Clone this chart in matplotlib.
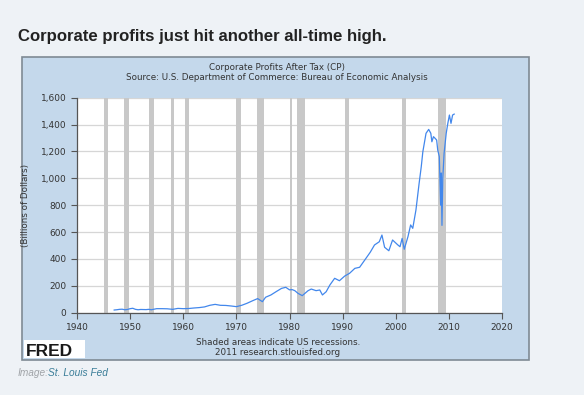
import matplotlib.pyplot as plt
from matplotlib.patches import Rectangle

# --- data (billions of dollars) ---
years = [1947.0, 1947.5, 1948.0, 1948.5, 1949.0, 1949.5, 1950.0, 1950.5, 1951.0, 1951.5,
         1952.0, 1953.0, 1953.5, 1954.0, 1955.0, 1956.0, 1957.0, 1958.0, 1959.0, 1960.0,
         1961.0, 1962.0, 1963.0, 1964.0, 1965.0, 1966.0, 1967.0, 1968.0, 1969.0, 1970.0,
         1971.0, 1972.0, 1973.0, 1974.0, 1974.9, 1975.5, 1976.5, 1977.5, 1978.5, 1979.3,
         1980.0, 1980.5, 1981.0, 1981.6, 1982.4, 1983.5, 1984.1, 1985.0, 1985.7, 1986.2,
         1986.9, 1987.6, 1988.5, 1989.4, 1990.4, 1991.3, 1992.3, 1993.2, 1994.4, 1995.2,
         1996.0, 1996.9, 1997.4, 1997.9, 1998.7, 1999.4, 2000.4, 2000.8, 2001.2, 2001.6,
         2002.3, 2002.8, 2003.2, 2003.8, 2004.4, 2004.8, 2005.1, 2005.7, 2006.2, 2006.6,
         2006.8, 2007.1, 2007.4, 2007.7, 2007.9, 2008.2, 2008.45, 2008.55, 2008.7, 2008.85,
         2009.1, 2009.5, 2009.8, 2010.1, 2010.4, 2010.7, 2011.0]
profits = [20, 22, 25, 26, 22, 24, 30, 33, 25, 22,
           24, 23, 25, 22, 30, 30, 29, 25, 32, 30,
           31, 35, 38, 43, 55, 62, 55, 54, 50, 45,
           55, 70, 88, 105, 82, 115, 132, 157, 181, 189,
           170, 172, 164, 144, 127, 164, 176, 164, 169, 132,
           156, 206, 256, 238, 273, 293, 330, 338, 405, 450,
           504, 528, 578, 487, 461, 541, 504, 491, 553, 472,
           566, 653, 628, 764, 963, 1086, 1198, 1335, 1364, 1335,
           1272, 1310, 1298, 1285, 1211, 1161, 800, 1040, 650, 1000,
           1186, 1335, 1409, 1471, 1409, 1471, 1478]

# NBER recessions (start, end)
rec_start = [1945.1, 1948.9, 1953.5, 1957.6, 1960.3, 1969.9, 1973.9, 1980.0, 1981.5, 1990.5, 2001.2, 2007.9]
rec_end = [1945.8, 1949.8, 1954.4, 1958.3, 1961.1, 1970.9, 1975.2, 1980.5, 1982.9, 1991.2, 2001.9, 2009.5]

W, H = 584, 395
fig = plt.figure(figsize=(W / 100, H / 100), dpi=100)
fig.patch.set_facecolor("#eef2f6")


def fx(px):
    return px / W


def fy(py):
    return 1 - py / H


fig.text(fx(18), fy(41), "Corporate profits just hit another all-time high.",
         fontsize=12.1, fontweight="bold", color="#222222", family="Liberation Sans",
         va="baseline", ha="left")

# light blue FRED panel, drawn under the axes
panel = Rectangle((fx(22), fy(360)), fx(529 - 22), (360 - 57) / H, transform=fig.transFigure,
                  facecolor="#c4d8eb", edgecolor="#7f8a94", linewidth=1.2, zorder=-2)
fig.patches.append(panel)
logo = Rectangle((fx(24), fy(358)), fx(61), 18 / H, transform=fig.transFigure,
                 facecolor="white", edgecolor="none", zorder=-1)
fig.patches.append(logo)

ax = fig.add_axes([fx(77), fy(312.7), fx(502 - 77), (312.7 - 97.7) / H])
ax.set_facecolor("white")

for s, e in zip(rec_start, rec_end):
    ax.axvspan(s, e, color="#c8c8c8", lw=0, zorder=1)
ax.plot(years, profits, color="#4287ec", lw=0.9, zorder=3)

ax.set_xlim(1940, 2020)
ax.set_ylim(0, 1600)
ax.set_xticks(range(1940, 2021, 10))
ax.set_yticks(range(0, 1601, 200))
ax.set_yticklabels([f"{v:,}" for v in range(0, 1601, 200)])
ax.yaxis.grid(True, color="#d6d6d6", lw=0.9, zorder=0)
ax.set_axisbelow(True)
for side in ("top", "right"):
    ax.spines[side].set_visible(False)
for side in ("left", "bottom"):
    ax.spines[side].set_color("#555555")
    ax.spines[side].set_linewidth(0.9)
ax.tick_params(colors="#555555", labelcolor="#333333", labelsize=6.5, length=4, width=0.8)
ax.set_ylabel("(Billions of Dollars)", fontsize=6.3, color="#333333", labelpad=8)

fig.text(fx(277), fy(70), "Corporate Profits After Tax (CP)",
         fontsize=6.3, color="#333333", ha="center", va="baseline")
fig.text(fx(277), fy(80), "Source: U.S. Department of Commerce: Bureau of Economic Analysis",
         fontsize=6.3, color="#333333", ha="center", va="baseline")
fig.text(fx(278), fy(345), "Shaded areas indicate US recessions.",
         fontsize=6.3, color="#333333", ha="center", va="baseline")
fig.text(fx(278), fy(355), "2011 research.stlouisfed.org",
         fontsize=6.3, color="#333333", ha="center", va="baseline")

# FRED logo
fig.text(fx(26), fy(355.5), "FRED", fontsize=12.5, fontweight="bold", color="#1a1a1a",
         family="Liberation Sans", va="baseline", ha="left")

fig.text(fx(18), fy(376), "Image:", fontsize=7.3, style="italic", color="#a0a4a8",
         family="Liberation Sans", va="baseline")
fig.text(fx(48), fy(376), "St. Louis Fed", fontsize=7.3, style="italic", color="#3a7d98",
         family="Liberation Sans", va="baseline")

fig.savefig("out.png", dpi=100, facecolor=fig.get_facecolor())
